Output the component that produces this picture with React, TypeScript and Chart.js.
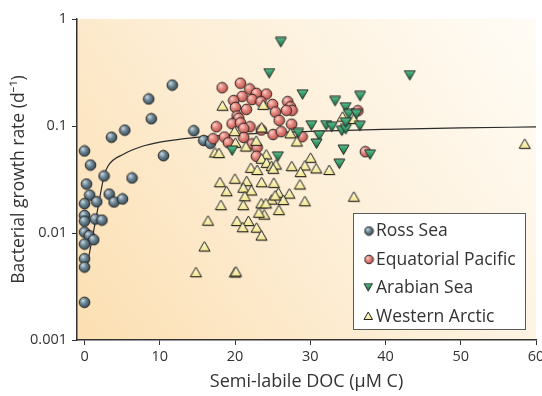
import React, { useEffect, useRef } from 'react';
import { Chart, registerables } from 'chart.js';

Chart.register(...registerables);

// ---- tick / label data ----
const xTickValues = [0, 10, 20, 30, 40, 50, 60];
const yTickValues = [0.001, 0.01, 0.1, 1];
const yTickLabels = ['0.001', '0.01', '0.1', '1'];
const seriesNames = ['Ross Sea', 'Equatorial Pacific', 'Arabian Sea', 'Western Arctic'];
const xTitle = 'Semi-labile DOC (\u03BCM C)';
const yTitle = 'Bacterial growth rate (d\u207B\u00B9)';

// ---- Ross Sea ----
const rossDOC = [11.66, 8.53, 8.87, 5.35, 3.59, 14.52, 15.84, 16.73, 0, 0.8, 2.59, 10.49, 6.31, 0.27, 0.69, 0, 1.62, 3.28, 3.92, 5.05, 0, 0, 1.43, 2.32, 0, 0.62, 1.22, 0, 0, 0, 0];
const rossRate = [0.241, 0.179, 0.117, 0.0914, 0.0786, 0.0904, 0.0732, 0.0689, 0.0584, 0.0432, 0.0341, 0.0528, 0.0327, 0.0287, 0.0226, 0.0188, 0.0196, 0.0231, 0.0195, 0.0208, 0.0146, 0.0129, 0.0135, 0.0132, 0.0102, 0.00944, 0.00865, 0.00789, 0.00575, 0.00481, 0.00225];

// ---- Equatorial Pacific ----
const pacDOC = [18.29, 20.72, 21.95, 22.84, 24.17, 20.94, 19.83, 22.27, 23.44, 20.05, 21.51, 24.99, 27.0, 27.36, 27.58, 26.83, 25.37, 20.28, 20.49, 25.87, 19.61, 20.72, 21.99, 21.16, 17.53, 27.52, 25.06, 26.14, 23.5, 18.59, 17.09, 21.16, 22.27, 22.93, 22.84, 28.91, 37.32, 36.32, 19.12];
const pacRate = [0.228, 0.251, 0.222, 0.202, 0.199, 0.189, 0.173, 0.177, 0.169, 0.149, 0.143, 0.159, 0.169, 0.151, 0.14, 0.14, 0.135, 0.124, 0.118, 0.113, 0.105, 0.107, 0.0985, 0.0952, 0.0985, 0.104, 0.0833, 0.0885, 0.0918, 0.0789, 0.0761, 0.0781, 0.0679, 0.063, 0.0521, 0.0794, 0.0575, 0.139, 0.0698];

// ---- Arabian Sea ----
const arabDOC = [26.16, 24.61, 43.29, 29.04, 33.37, 36.69, 34.77, 35.19, 36.19, 30.21, 32.18, 32.93, 34.26, 34.79, 36.65, 28.46, 31.25, 30.9, 34.49, 38.01, 33.93, 25.76, 19.69, 34.79];
const arabRate = [0.597, 0.306, 0.293, 0.194, 0.168, 0.187, 0.147, 0.127, 0.127, 0.0996, 0.1, 0.0964, 0.0885, 0.0918, 0.0983, 0.0842, 0.0798, 0.0672, 0.059, 0.0532, 0.0435, 0.051, 0.0578, 0.106];

// ---- Western Arctic ----
const arcticDOC = [18.39, 23.81, 23.6, 20.01, 27.42, 22.88, 28.29, 20.12, 21.51, 17.4, 17.93, 24.21, 34.36, 35.86, 30.11, 27.6, 29.35, 28.78, 30.85, 32.58, 23.6, 24.26, 24.93, 22.18, 23.01, 25.5, 25.14, 18.06, 20.05, 21.61, 23.6, 25.23, 18.95, 21.16, 22.24, 21.38, 25.83, 27.29, 26.47, 24.93, 28.69, 29.35, 35.86, 18.19, 21.16, 23.55, 25.9, 23.95, 23.24, 16.47, 20.32, 21.85, 21.08, 22.93, 23.57, 16.0, 14.87, 20.05, 20.19, 58.57, 25.39, 24.17];
const arcticRate = [0.153, 0.156, 0.0958, 0.0885, 0.0845, 0.072, 0.0709, 0.0689, 0.0636, 0.056, 0.0553, 0.0536, 0.121, 0.115, 0.0499, 0.0417, 0.0423, 0.0367, 0.0397, 0.0384, 0.0489, 0.0448, 0.0417, 0.0402, 0.0384, 0.0432, 0.0394, 0.0295, 0.0318, 0.0302, 0.0295, 0.0291, 0.0243, 0.0262, 0.0247, 0.0218, 0.0235, 0.0231, 0.0201, 0.0203, 0.0281, 0.0196, 0.0216, 0.018, 0.018, 0.0187, 0.0162, 0.0147, 0.0153, 0.0129, 0.0128, 0.0128, 0.0112, 0.0111, 0.00937, 0.0074, 0.00426, 0.00423, 0.00432, 0.0675, 0.0222, 0.0187];

// ---- fitted curve ----
const curveDOC = [0.3, 1.0, 1.7, 2.6, 3.1, 5.3, 7.5, 10.2, 14.6, 20, 30, 40, 50, 60];
const curveRate = [0.0048, 0.0087, 0.016, 0.034, 0.042, 0.055, 0.064, 0.071, 0.078, 0.083, 0.089, 0.093, 0.096, 0.098];

const pts = (xs: number[], ys: number[]) => xs.map((x, i) => ({ x, y: ys[i] }));

const FONT = '"Open Sans", "Noto Sans", sans-serif';
const TEXT = '#333333';

function circleSprite(stops: string[], r: number) {
  const size = Math.ceil(r * 2 + 2);
  const c = document.createElement('canvas');
  c.width = size; c.height = size;
  const g = c.getContext('2d')!;
  const cx = size / 2, cy = size / 2;
  const grad = g.createRadialGradient(cx - r * 0.35, cy - r * 0.4, 0, cx - r * 0.15, cy - r * 0.15, r * 1.15);
  grad.addColorStop(0, stops[0]);
  grad.addColorStop(0.5, stops[1]);
  grad.addColorStop(1, stops[2]);
  g.beginPath(); g.arc(cx, cy, r, 0, Math.PI * 2);
  g.fillStyle = grad; g.fill();
  g.lineWidth = 1; g.strokeStyle = '#222'; g.stroke();
  return c;
}

function triangleSprite(up: boolean, top: string, bottom: string, w: number, h: number, shadow: boolean) {
  const pad = 1;
  const c = document.createElement('canvas');
  c.width = Math.ceil(w + pad * 2 + 1); c.height = Math.ceil(h + pad * 2 + 1);
  const g = c.getContext('2d')!;
  const p = up
    ? [[pad + w / 2, pad], [pad + w, pad + h], [pad, pad + h]]
    : [[pad, pad], [pad + w, pad], [pad + w / 2, pad + h]];
  const path = (dx: number, dy: number) => {
    g.beginPath();
    g.moveTo(p[0][0] + dx, p[0][1] + dy);
    g.lineTo(p[1][0] + dx, p[1][1] + dy);
    g.lineTo(p[2][0] + dx, p[2][1] + dy);
    g.closePath();
  };
  if (shadow) { path(1, 1); g.fillStyle = 'rgba(60,50,30,0.35)'; g.fill(); }
  const grad = g.createLinearGradient(0, pad, 0, pad + h);
  grad.addColorStop(0, top); grad.addColorStop(1, bottom);
  path(0, 0); g.fillStyle = grad; g.fill();
  g.lineWidth = 1; g.lineJoin = 'miter'; g.strokeStyle = '#222'; g.stroke();
  return c;
}

export default function App() {
  const ref = useRef<HTMLCanvasElement | null>(null);
  useEffect(() => {
    if (!ref.current) return;
    const rossImg = circleSprite(['#d3dee5', '#6e8795', '#3a4f5b'], 5.3);
    const pacImg = circleSprite(['#fcd6cf', '#e3867d', '#c25650'], 5.3);
    const arabImg = triangleSprite(false, '#5cc28e', '#0d6b3c', 11, 9.5, false);
    const arcticImg = triangleSprite(true, '#fffde6', '#f3e68a', 11, 9.5, true);
    const rossL = circleSprite(['#d3dee5', '#6e8795', '#3a4f5b'], 4.3);
    const pacL = circleSprite(['#fcd6cf', '#e3867d', '#c25650'], 4.3);
    const arabL = triangleSprite(false, '#5cc28e', '#0d6b3c', 8.5, 7.5, false);
    const arcticL = triangleSprite(true, '#fffde6', '#f3e68a', 8.5, 7.5, false);
    const legendImgs = [rossL, pacL, arabL, arcticL];

    const bgPlugin = {
      id: 'bg',
      beforeDraw(chart: any) {
        const { ctx, chartArea: a } = chart;
        const grad = ctx.createLinearGradient(a.left, a.bottom, a.right, a.top);
        grad.addColorStop(0, '#fcdfb2');
        grad.addColorStop(0.5, '#fdefd8');
        grad.addColorStop(1, '#fffcf6');
        ctx.save();
        ctx.fillStyle = grad;
        ctx.fillRect(a.left, a.top, a.right - a.left, a.bottom - a.top);
        ctx.restore();
      },
    };

    const legendPlugin = {
      id: 'boxLegend',
      afterDraw(chart: any) {
        const ctx = chart.ctx;
        const bx = 353.5, by = 213.5, bw = 172, bh = 116;
        ctx.save();
        ctx.fillStyle = '#ffffff';
        ctx.fillRect(bx, by, bw, bh);
        ctx.strokeStyle = '#5a5a5a';
        ctx.lineWidth = 1;
        ctx.strokeRect(bx, by, bw, bh);
        ctx.font = `17.5px ${FONT}`;
        ctx.fillStyle = TEXT;
        ctx.textBaseline = 'middle';
        ctx.textAlign = 'left';
        const rowY = [231, 259.5, 288, 316.5];
        seriesNames.forEach((name, i) => {
          const img = legendImgs[i];
          ctx.drawImage(img, 369 - img.width / 2, rowY[i] - img.height / 2);
          ctx.fillText(name, 376, rowY[i] + 0.5);
        });
        ctx.restore();
      },
    };

    const chart = new Chart(ref.current, {
      type: 'scatter',
      data: {
        datasets: [
          {
            label: 'fit',
            data: pts(curveDOC, curveRate),
            showLine: true,
            pointRadius: 0,
            borderColor: '#2b2b2b',
            borderWidth: 1.2,
            cubicInterpolationMode: 'monotone',
            order: 5,
          } as any,
          { label: seriesNames[0], data: pts(rossDOC, rossRate), pointStyle: rossImg, order: 4 } as any,
          { label: seriesNames[1], data: pts(pacDOC, pacRate), pointStyle: pacImg, order: 3 } as any,
          { label: seriesNames[3], data: pts(arcticDOC, arcticRate), pointStyle: arcticImg, order: 2 } as any,
          { label: seriesNames[2], data: pts(arabDOC, arabRate), pointStyle: arabImg, order: 1 } as any,
        ],
      },
      options: {
        responsive: false,
        animation: false,
        layout: { padding: { top: 19, right: 6, left: 0, bottom: 0 } },
        plugins: { legend: { display: false }, tooltip: { enabled: false } },
        scales: {
          x: {
            type: 'linear',
            min: -1,
            max: 60,
            afterBuildTicks: (s: any) => { s.ticks = xTickValues.map((v) => ({ value: v })); },
            afterFit: (s: any) => { s.height = 56; s.paddingLeft = 0; s.paddingRight = 0; },
            grid: { drawOnChartArea: false, drawTicks: true, tickLength: 5, color: '#333', lineWidth: 1 },
            border: { color: '#333', width: 1.5 },
            ticks: { font: { family: FONT, size: 14.5 }, color: TEXT, padding: 3, maxRotation: 0 },
            title: { display: true, text: xTitle, font: { family: FONT, size: 18 }, color: TEXT, padding: { top: 4, bottom: 3 } },
          },
          y: {
            type: 'logarithmic',
            min: 0.001,
            max: 1,
            afterBuildTicks: (s: any) => { s.ticks = yTickValues.map((v) => ({ value: v })); },
            afterFit: (s: any) => { s.width = 77; s.paddingTop = 0; s.paddingBottom = 0; },
            grid: { drawOnChartArea: false, drawTicks: true, tickLength: 5, color: '#333', lineWidth: 1 },
            border: { color: '#333', width: 1.5 },
            ticks: {
              font: { family: FONT, size: 14.5 },
              color: TEXT,
              padding: 5,
              callback: (v: any) => {
                const i = yTickValues.findIndex((t) => Math.abs(t - v) < t * 1e-6);
                return i >= 0 ? yTickLabels[i] : '';
              },
            },
            title: { display: true, text: yTitle, font: { family: FONT, size: 17.5 }, color: TEXT, padding: { top: 9, bottom: 0 } },
          },
        },
      },
      plugins: [bgPlugin, legendPlugin],
    } as any);
    return () => chart.destroy();
  }, []);

  return (
    <div style={{ position: 'fixed', left: 0, top: 0, width: 542, height: 396, background: '#fff' }}>
      <canvas ref={ref} width={542} height={396} style={{ display: 'block' }} />
    </div>
  );
}
